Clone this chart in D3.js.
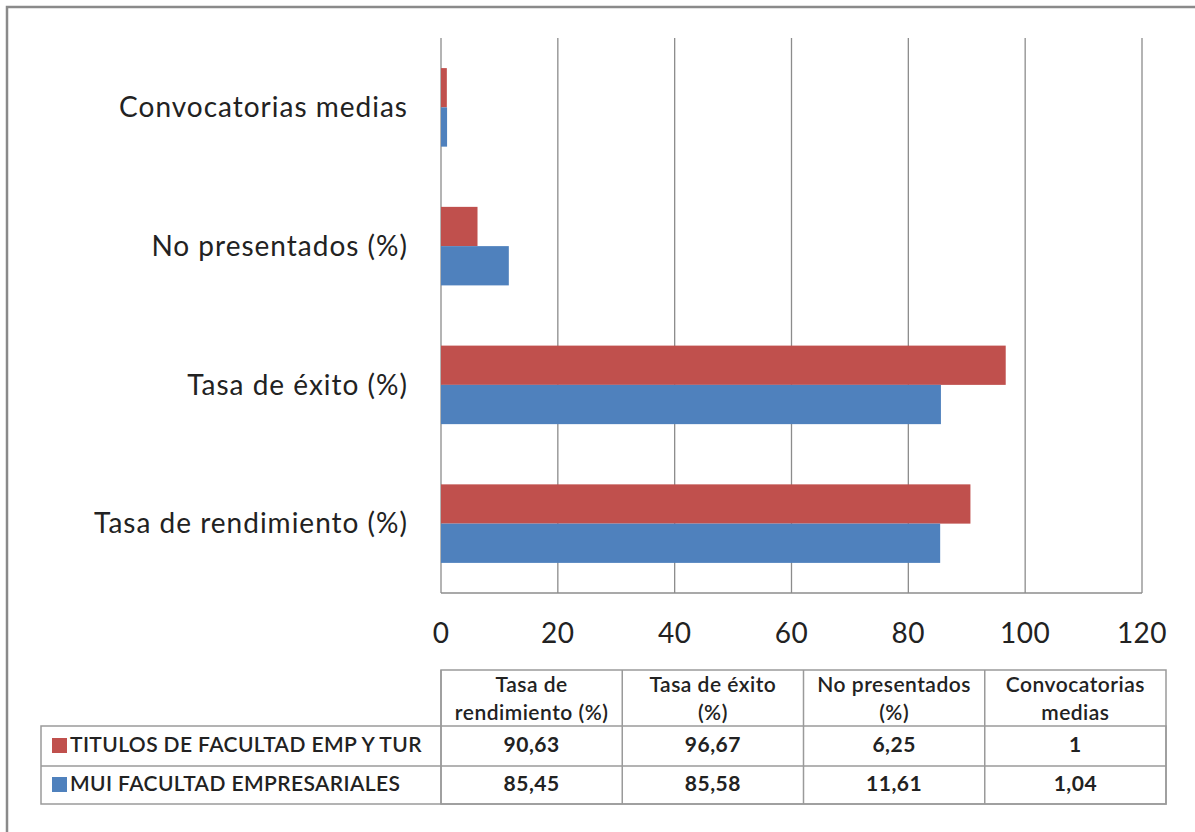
<!DOCTYPE html>
<html>
<head>
<meta charset="utf-8">
<style>
    body { margin: 0; background: #fff; }
    text { font-family: Lato, "Open Sans", sans-serif; fill: #222; }
</style>
</head>
<body>
<div id="vis"></div>

<script src="https://d3js.org/d3.v7.min.js"></script>
<script>
    // data
    let categories = ["Tasa de rendimiento (%)", "Tasa de éxito (%)", "No presentados (%)", "Convocatorias medias"];
    let headerLines = [["Tasa de", "rendimiento (%)"], ["Tasa de éxito", "(%)"], ["No presentados", "(%)"], ["Convocatorias", "medias"]];
    let seriesNames = ["TITULOS DE FACULTAD EMP Y TUR", "MUI FACULTAD EMPRESARIALES"];
    let titulos = [90.63, 96.67, 6.25, 1];
    let mui = [85.45, 85.58, 11.61, 1.04];
    let titulosLabels = ["90,63", "96,67", "6,25", "1"];
    let muiLabels = ["85,45", "85,58", "11,61", "1,04"];
    let xTicks = [0, 20, 40, 60, 80, 100, 120];
    let colors = ["#C0504D", "#4F81BD"];

    let width = 1195, height = 832;
    let plot = {left: 441, right: 1142, top: 38, bottom: 593};

    let svg = d3.select("#vis")
        .append("svg")
        .attr("width", width)
        .attr("height", height);

    // outer frame
    svg.append("rect")
        .attr("x", 7).attr("y", 7)
        .attr("width", width).attr("height", height)
        .attr("fill", "none")
        .attr("stroke", "#8a8a8a")
        .attr("stroke-width", 2.5);

    let x = d3.scaleLinear()
        .domain([0, 120])
        .range([plot.left, plot.right]);

    // categories go bottom to top
    let y = d3.scaleBand()
        .domain(categories)
        .range([plot.bottom, plot.top])
        .paddingInner(0.434)
        .paddingOuter(0.217);

    let ySub = d3.scaleBand()
        .domain([0, 1])
        .range([0, y.bandwidth()]);

    // gridlines
    svg.append("g")
        .selectAll("line")
        .data(xTicks)
        .enter()
        .append("line")
        .attr("x1", d => x(d)).attr("x2", d => x(d))
        .attr("y1", plot.top).attr("y2", plot.bottom)
        .attr("stroke", "#8c8c8c")
        .attr("stroke-width", 1.3);

    // bottom axis line
    svg.append("line")
        .attr("x1", plot.left).attr("x2", plot.right)
        .attr("y1", plot.bottom).attr("y2", plot.bottom)
        .attr("stroke", "#8c8c8c")
        .attr("stroke-width", 1.3);

    // bars: red series on top, blue below
    let series = [titulos, mui];
    series.forEach(function (vals, s) {
        svg.append("g")
            .selectAll("rect")
            .data(vals)
            .enter()
            .append("rect")
            .attr("x", x(0))
            .attr("y", (d, i) => y(categories[i]) + ySub(s))
            .attr("width", d => x(d) - x(0))
            .attr("height", ySub.bandwidth())
            .attr("fill", colors[s]);
    });

    // category labels
    svg.append("g")
        .selectAll("text")
        .data(categories)
        .enter()
        .append("text")
        .attr("x", 408)
        .attr("y", d => y(d) + y.bandwidth() / 2)
        .attr("dy", "0.35em")
        .attr("text-anchor", "end")
        .style("font-size", "28px")
        .style("letter-spacing", "1px")
        .text(d => d);

    // x tick labels
    svg.append("g")
        .selectAll("text")
        .data(xTicks)
        .enter()
        .append("text")
        .attr("x", d => x(d))
        .attr("y", 643)
        .attr("text-anchor", "middle")
        .style("font-size", "28px")
        .style("letter-spacing", "0.5px")
        .text(d => d);

    // data table
    let tbl = {left: 41, col0: 441, right: 1166, top: 670, head: 726, mid: 766, bottom: 804};
    let col = d3.scaleBand()
        .domain(categories)
        .range([tbl.col0, tbl.right]);

    let gridColor = "#9a9a9a";
    let t = svg.append("g");

    // header box
    t.append("rect")
        .attr("x", tbl.col0).attr("y", tbl.top)
        .attr("width", tbl.right - tbl.col0).attr("height", tbl.bottom - tbl.top)
        .attr("fill", "none").attr("stroke", gridColor).attr("stroke-width", 1.5);
    t.append("rect")
        .attr("x", tbl.left).attr("y", tbl.head)
        .attr("width", tbl.right - tbl.left).attr("height", tbl.bottom - tbl.head)
        .attr("fill", "none").attr("stroke", gridColor).attr("stroke-width", 1.5);
    t.append("line")
        .attr("x1", tbl.left).attr("x2", tbl.right)
        .attr("y1", tbl.mid).attr("y2", tbl.mid)
        .attr("stroke", gridColor).attr("stroke-width", 1.5);
    t.selectAll(".vline")
        .data(categories)
        .enter()
        .append("line")
        .attr("x1", d => col(d)).attr("x2", d => col(d))
        .attr("y1", tbl.top).attr("y2", tbl.bottom)
        .attr("stroke", gridColor).attr("stroke-width", 1.5);

    // header text
    categories.forEach(function (c, i) {
        headerLines[i].forEach(function (line, j) {
            t.append("text")
                .attr("x", col(c) + col.bandwidth() / 2)
                .attr("y", 685 + j * 28)
                .attr("dy", "0.35em")
                .attr("text-anchor", "middle")
                .style("font-size", "21px")
                .style("font-weight", "600")
                .style("letter-spacing", "0.5px")
                .text(line);
        });
    });

    // rows
    let rowMid = [745, 784];
    let rowLabels = [titulosLabels, muiLabels];
    seriesNames.forEach(function (name, s) {
        t.append("rect")
            .attr("x", 52).attr("y", rowMid[s] - 7)
            .attr("width", 15).attr("height", 15)
            .attr("fill", colors[s]);
        t.append("text")
            .attr("x", 70).attr("y", rowMid[s])
            .attr("dy", "0.35em")
            .style("font-size", "21px")
            .style("font-weight", "600")
            .style("letter-spacing", "0.4px")
            .text(name);
        categories.forEach(function (c, i) {
            t.append("text")
                .attr("x", col(c) + col.bandwidth() / 2)
                .attr("y", rowMid[s])
                .attr("dy", "0.35em")
                .attr("text-anchor", "middle")
                .style("font-size", "21px")
                .style("font-weight", "700")
                .style("letter-spacing", "0.5px")
                .text(rowLabels[s][i]);
        });
    });
</script>
</body>
</html>
